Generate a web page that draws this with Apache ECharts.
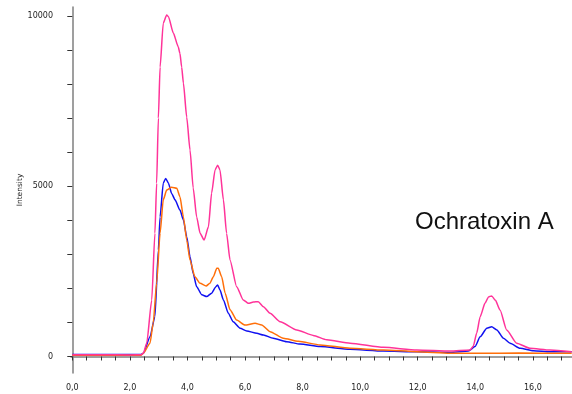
<!DOCTYPE html>
<html>
<head>
<meta charset="utf-8">
<script src="https://cdn.jsdelivr.net/npm/echarts@6/dist/echarts.min.js"></script>
<style>
  html, body { margin: 0; padding: 0; background: #fff; }
  #chart { width: 572px; height: 394px; }
</style>
</head>
<body>
<div id="chart"></div>
<script>
// retention time (min) / intensity pairs
const pinkTrace = [
  [0, 50], [1, 50], [2, 45], [2.39, 50], [2.47, 100], [2.585, 390], [2.76, 1660], [2.87, 3620],
  [2.93, 5090], [2.99, 7000], [3.05, 8500], [3.16, 9790], [3.28, 10030], [3.34, 9980], [3.51, 9500],
  [3.68, 9100], [3.74, 8900], [3.80, 8500], [3.86, 8030], [3.975, 7030], [4.09, 6065], [4.20, 4950],
  [4.32, 4100], [4.44, 3620], [4.58, 3420], [4.73, 3810], [4.84, 4800], [4.96, 5480], [5.05, 5620],
  [5.13, 5480], [5.25, 4600], [5.36, 3620], [5.48, 2830], [5.71, 2050], [5.94, 1660], [6.12, 1560],
  [6.29, 1600], [6.46, 1610], [6.64, 1460], [6.87, 1270], [7.22, 1020], [7.80, 780], [8.37, 620],
  [8.84, 490], [9.65, 390], [10.81, 270], [11.97, 190], [13.12, 160], [13.82, 190], [13.93, 300],
  [14.05, 690], [14.17, 1170], [14.34, 1570], [14.46, 1750], [14.57, 1780], [14.70, 1650],
  [14.86, 1365], [15.09, 780], [15.44, 390], [15.90, 240], [16.60, 190], [17.35, 140]
];
const blueTrace = [
  [0, 60], [1, 60], [2, 60], [2.39, 60], [2.47, 95], [2.70, 580], [2.87, 1170], [2.99, 3130],
  [3.05, 4100], [3.16, 5090], [3.245, 5230], [3.34, 5090], [3.45, 4790], [3.57, 4600], [3.74, 4300],
  [3.86, 4010], [3.975, 3520], [4.09, 2930], [4.20, 2440], [4.32, 2050], [4.50, 1810], [4.67, 1760],
  [4.84, 1860], [4.99, 2050], [5.05, 2100], [5.13, 1950], [5.25, 1660], [5.42, 1270], [5.59, 1020],
  [5.83, 830], [6.06, 750], [6.41, 680], [6.64, 630], [6.98, 535], [7.45, 435], [7.91, 365],
  [8.61, 290], [9.65, 210], [10.81, 160], [11.97, 140], [13.12, 120], [13.76, 160], [13.99, 290],
  [14.17, 580], [14.40, 830], [14.57, 875], [14.75, 780], [14.98, 535], [15.21, 390], [15.56, 240],
  [16.02, 170], [16.60, 140], [17.35, 140]
];
const orangeTrace = [
  [0, 40], [1, 40], [2, 40], [2.39, 40], [2.47, 95], [2.70, 390], [2.81, 975], [2.93, 2150],
  [3.05, 3620], [3.16, 4600], [3.28, 4890], [3.45, 4970], [3.63, 4940], [3.74, 4690], [3.86, 4100],
  [3.975, 3420], [4.09, 2830], [4.26, 2340], [4.44, 2150], [4.65, 2070], [4.78, 2150], [4.90, 2340],
  [5.02, 2590], [5.07, 2590], [5.19, 2340], [5.31, 1860], [5.48, 1370], [5.71, 1070], [6.00, 925],
  [6.35, 975], [6.58, 925], [6.87, 730], [7.33, 535], [7.85, 445], [8.61, 340], [9.65, 240],
  [10.81, 190], [11.97, 140], [13.12, 95], [14.17, 95], [15.5, 100], [17.35, 95]
];

const xTickValues = [];
for (let v = 0; v <= 17; v += 0.5) xTickValues.push(v);
const xLabelValues = [0, 2, 4, 6, 8, 10, 12, 14, 16];
const yTickValues = [0, 1000, 2000, 3000, 4000, 5000, 6000, 7000, 8000, 9000, 10000];
const yLabelValues = [0, 5000, 10000];

const chart = echarts.init(document.getElementById('chart'));

const labelFont = { fontFamily: 'DejaVu Sans', fontSize: 8, color: '#222' };

const option = {
  animation: false,
  backgroundColor: '#fff',
  grid: { left: 71, right: 0, top: 7, bottom: 21 },
  xAxis: {
    type: 'value',
    min: -0.045,
    max: 17.36,
    axisLine: { lineStyle: { color: '#7f7f7f', width: 1.5 } },
    axisTick: { customValues: xTickValues, length: 4, lineStyle: { color: '#333' } },
    axisLabel: Object.assign({
      customValues: xLabelValues,
      margin: 11,
      formatter: (v) => v.toFixed(1).replace('.', ',')
    }, labelFont),
    splitLine: { show: false }
  },
  yAxis: {
    type: 'value',
    min: -485,
    max: 10265,
    name: 'Intensity',
    nameLocation: 'middle',
    nameGap: 47,
    nameMoveOverlap: false,
    nameTextStyle: { fontFamily: 'DejaVu Sans', fontSize: 7.5, color: '#222' },
    axisLine: { show: true, lineStyle: { color: '#7f7f7f', width: 1.5 } },
    axisTick: { show: true, customValues: yTickValues, length: 5, lineStyle: { color: '#333' } },
    axisLabel: Object.assign({
      customValues: yLabelValues,
      margin: 18,
      formatter: (v) => String(v)
    }, labelFont),
    splitLine: { show: false }
  },
  graphic: [{
    type: 'text',
    left: 415,
    top: 210,
    style: {
      text: 'Ochratoxin A',
      fontFamily: 'Liberation Sans',
      fontSize: 24,
      fill: '#111'
    }
  }],
  series: [
    {
      type: 'line', data: blueTrace, showSymbol: false, smooth: 0.2, smoothMonotone: 'x',
      lineStyle: { color: '#1010f0', width: 1.5 }
    },
    {
      type: 'line', data: orangeTrace, showSymbol: false, smooth: 0.2, smoothMonotone: 'x',
      lineStyle: { color: '#ff6f0a', width: 1.5 }
    },
    {
      type: 'line', data: pinkTrace, showSymbol: false, smooth: 0.2, smoothMonotone: 'x',
      lineStyle: { color: '#ff3399', width: 1.5 }
    }
  ]
};

chart.setOption(option);
</script>
</body>
</html>
